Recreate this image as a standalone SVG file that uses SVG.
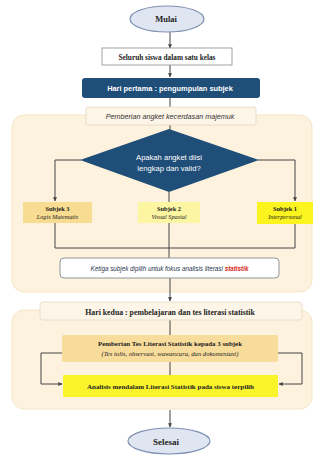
<svg xmlns="http://www.w3.org/2000/svg" width="322" height="460" viewBox="0 0 322 460">
<defs>
<marker id="ah" viewBox="0 0 6 6" refX="5.5" refY="3" markerWidth="4" markerHeight="4" orient="auto"><path d="M0,0 L6,3 L0,6 z" fill="#444"/></marker>
<style>
.ser{font-family:"Liberation Serif","Times New Roman",serif;fill:#222}
.sans{font-family:"Liberation Sans",Arial,sans-serif}
.b{font-weight:bold}
.i{font-style:italic}
.c{stroke:#444;stroke-width:1;fill:none}
.panel{fill:#fdf2dd;stroke:#f5e6c8;stroke-width:1}
.cream{fill:#fdf5e8;stroke:#e4d8c4;stroke-width:0.8}
.term{fill:#dfe6f2;stroke:#7f8fb0;stroke-width:1.2}
</style>
</defs>
<rect width="322" height="460" fill="#ffffff"/>
<g id="panel1"><rect class="panel" x="12" y="115" width="300" height="177" rx="12"/></g>
<g id="panel2"><rect class="panel" x="12" y="310" width="300" height="99" rx="12"/></g>
<g id="connectors">
<path class="c" d="M170,32 V48" marker-end="url(#ah)"/>
<path class="c" d="M170,65 V77" marker-end="url(#ah)"/>
<path class="c" d="M170,98 V107"/>
<path class="c" d="M170,125 V130"/>
<path class="c" d="M81,160 H55 V201" marker-end="url(#ah)"/>
<path class="c" d="M258,160 H295 V201" marker-end="url(#ah)"/>
<path class="c" d="M169,192 V202"/>
<path class="c" d="M55,223 V248 H295 V224"/>
<path class="c" d="M169,223 V258"/>
<path class="c" d="M170,278 V301" marker-end="url(#ah)"/>
<path class="c" d="M170,320 V335"/>
<path class="c" d="M170,362 V375"/>
<path class="c" d="M62,353 H41 V384 H62" marker-end="url(#ah)"/>
<path class="c" d="M278,353 H302 V384 H279" marker-end="url(#ah)"/>
<path class="c" d="M170,410 V427" marker-end="url(#ah)"/>
</g>
<g id="mulai"><ellipse class="term" cx="167" cy="19" rx="37" ry="13"/><text class="ser b" x="166" y="22" font-size="8.5" text-anchor="middle">Mulai</text></g>
<g id="seluruh"><rect x="102" y="48" width="130" height="17" fill="#fff" stroke="#999" stroke-width="0.9"/><text class="ser b" x="167" y="59.5" font-size="7.3" text-anchor="middle">Seluruh siswa dalam satu kelas</text></g>
<g id="hari1"><rect x="82" y="78" width="178" height="20" rx="3" fill="#1f4e79"/><text class="sans b" x="170" y="91" font-size="7.4" fill="#fff" text-anchor="middle">Hari pertama : pengumpulan subjek</text></g>
<g id="angket"><rect class="cream" x="86" y="107" width="170" height="18" rx="2"/><text class="sans i" x="170" y="119" font-size="7.2" fill="#333" text-anchor="middle">Pemberian angket kecerdasan majemuk</text></g>
<g id="valid"><polygon points="169,129 259,160 169,192 80,160" fill="#1f4e79"/><text class="sans" x="169" y="160" font-size="7.6" fill="#fff" text-anchor="middle">Apakah angket diisi</text><text class="sans" x="169" y="171" font-size="7.6" fill="#fff" text-anchor="middle">lengkap dan valid?</text></g>
<g id="subjek3"><rect x="23" y="202" width="69" height="21" fill="#f8dc92"/><text class="ser b" x="57.5" y="211" font-size="6.4" text-anchor="middle">Subjek 3</text><text class="ser i" x="57.5" y="219" font-size="6.2" fill="#555" text-anchor="middle">Logis Matematis</text></g>
<g id="subjek2"><rect x="138" y="202" width="62" height="21" fill="#fcf6a2"/><text class="ser b" x="169" y="211" font-size="6.4" text-anchor="middle">Subjek 2</text><text class="ser i" x="169" y="219" font-size="6.2" fill="#777" text-anchor="middle">Visual Spasial</text></g>
<g id="subjek1"><rect x="257" y="202" width="56" height="22" fill="#fcf41e"/><text class="ser b" x="285" y="211" font-size="6.4" text-anchor="middle">Subjek 1</text><text class="ser i" x="285" y="219" font-size="6.2" fill="#555" text-anchor="middle">Interpersonal</text></g>
<g id="ketiga"><rect x="60" y="258" width="219" height="20" rx="4" fill="#fff" stroke="#8e969c" stroke-width="1"/><text class="sans i" x="169.5" y="270.5" font-size="6.3" fill="#1f3550" text-anchor="middle">Ketiga subjek dipilih untuk fokus analisis literasi <tspan fill="#d9261c" font-weight="bold">statistik</tspan></text></g>
<g id="hari2"><rect class="cream" x="40" y="302" width="262" height="18" rx="3"/><text class="ser b" x="170" y="314.5" font-size="7.8" text-anchor="middle">Hari kedua : pembelajaran dan tes literasi statistik</text></g>
<g id="tes"><rect x="62" y="335" width="216" height="27" rx="2" fill="#f8dc9c"/><text class="ser b" x="170" y="346" font-size="6.9" text-anchor="middle">Pemberian Tes Literasi Statistik kepada 3 subjek</text><text class="ser i" x="170" y="355.5" font-size="6.6" fill="#444" text-anchor="middle">(Tes tulis, observasi, wawancara, dan dokumentasi)</text></g>
<g id="analisis"><rect x="63" y="375" width="215" height="22" fill="#faf52a"/><text class="ser b" x="170.5" y="388.5" font-size="7" text-anchor="middle">Analisis mendalam Literasi Statistik pada siswa terpilih</text></g>
<g id="selesai"><ellipse class="term" cx="169" cy="441" rx="41" ry="13"/><text class="ser b" x="166" y="444.5" font-size="9" text-anchor="middle">Selesai</text></g>
</svg>
